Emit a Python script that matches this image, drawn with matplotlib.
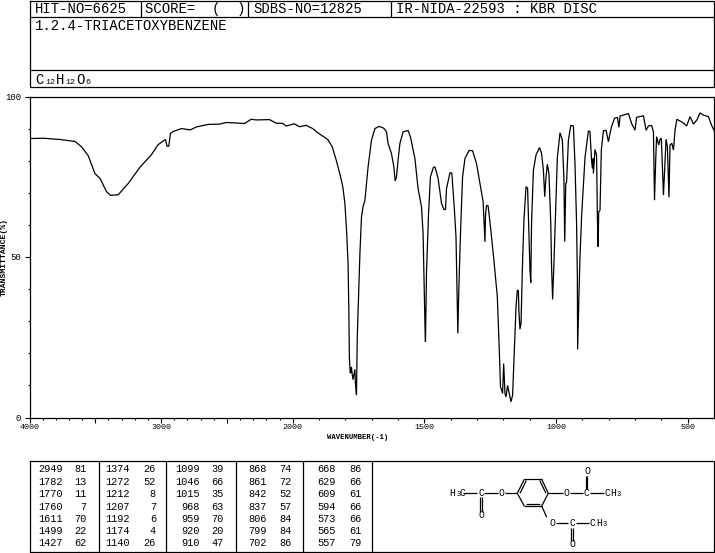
import matplotlib
matplotlib.use("Agg")
import matplotlib.pyplot as plt
import numpy as np

# wavenumber (cm-1) / transmittance (%)
wavenumber = [4000, 3894, 3768, 3654, 3604, 3553, 3503, 3465, 3414, 3384, 3326, 3250, 3162, 3073, 3023, 2967, 2955, 2942,
              2929, 2909, 2846, 2778, 2733, 2644, 2556, 2505, 2366, 2316, 2278, 2177, 2126, 2076, 2050, 1994, 1975, 1949,
              1924, 1905, 1867, 1850, 1835, 1820, 1810, 1802, 1795, 1790, 1787, 1785, 1782, 1780, 1777, 1775, 1771, 1764,
              1762, 1758, 1755, 1749, 1745, 1739, 1733, 1726, 1714, 1701, 1688, 1672, 1654, 1644, 1638, 1625, 1616, 1611,
              1606, 1600, 1593, 1581, 1562, 1553, 1536, 1524, 1511, 1505, 1498, 1496, 1492, 1484, 1477, 1466, 1460, 1448,
              1435, 1426, 1420, 1416, 1403, 1396, 1387, 1380, 1377, 1373, 1369, 1363, 1355, 1346, 1330, 1317, 1302, 1289,
              1277, 1270, 1268, 1264, 1258, 1249, 1236, 1223, 1216, 1211, 1203, 1199, 1194, 1190, 1184, 1178, 1171, 1165,
              1159, 1152, 1147, 1143, 1141, 1137, 1133, 1129, 1127, 1122, 1114, 1108, 1103, 1099, 1096, 1093, 1086, 1076,
              1063, 1055, 1048, 1043, 1039, 1033, 1027, 1020, 1017, 1013, 1008, 1004, 995, 985, 976, 970, 967, 963, 960,
              953, 944, 934, 928, 922, 919, 918, 913, 909, 903, 890, 877, 871, 865, 862, 859, 858, 852, 846, 843, 840, 838,
              833, 828, 820, 810, 801, 795, 789, 778, 767, 761, 757, 725, 713, 700, 694, 668, 658, 649, 637, 630, 626, 621,
              618, 610, 605, 600, 592, 586, 582, 577, 571, 567, 560, 554, 548, 541, 523, 514, 504, 491, 478, 465, 453, 440,
              421, 408, 400]
transmittance = [86.9, 87, 86.6, 86, 84.3, 81.5, 76, 74.5, 70.3, 69.2, 69.4, 72.9, 77.9, 81.9, 85, 86.6, 84.5, 84.5,
                 88.5, 89.1, 90, 89.6, 90.5, 91.3, 91.4, 91.9, 91.6, 92.9, 92.7, 92.8, 91.7, 91.6, 90.8, 91.5, 90.6, 91,
                 90, 88.7, 86.6, 84.3, 80.2, 75.5, 71.9, 66.7, 57.3, 48, 33.4, 18.9, 13.9, 13.9, 15.8, 13.9, 11.8, 15,
                 10.6, 7, 25, 40.7, 51, 62.5, 65.7, 67.7, 78, 86.4, 90, 90.7, 90.1, 89, 85.4, 82.2, 78, 73.7,
                 75, 80.2, 85.4, 89, 89.4, 87.4, 80.7, 71.3, 65.6, 57.3, 29.3, 23.6, 45.4, 64, 75, 77.9, 78.1, 74.5,
                 66.7, 64.8, 64.8, 71.3, 76.2, 76.2, 66, 56.3, 42.8, 26.2, 40.7, 57.3, 75, 80.7, 83.2, 83.1, 79.1, 72.9,
                 67.2, 54.7, 63, 66.1, 65.9, 59.4, 49, 37.6, 22, 9.6, 7.5, 16.8, 7.5, 6.4, 10, 7.5, 4.9, 7,
                 20, 34.5, 39.7, 39.5, 33, 27.5, 29.3, 41.8, 49, 61.5, 71.9, 71.4, 57.4, 46, 42, 60.5, 77, 81.8,
                 84.1, 82.3, 77, 68.8, 74, 78.9, 76, 60.5, 47, 36.8, 48, 58.4, 81, 88.7, 86.4, 74, 54.8, 73, 73.2,
                 86.4, 91, 90.8, 79, 60.5, 44, 21.2, 38, 50, 62.5, 81, 89.3, 89, 80, 77.6, 80.7, 76, 83.5, 81.7, 62.5, 53.2, 64,
                 64.6, 83.3, 89.3, 89.5, 85.9, 88.5, 90.6, 93.2, 93.5, 90.4, 93.9, 94.7, 91.6, 89.5, 93.5, 94, 89.5, 90.8, 91, 89, 67.7, 81.2,
                 87.5, 84.9, 86.6, 87, 69.3, 80, 86.7, 84.3, 68.6, 84.9, 85.4, 83.3, 89.5, 92.9, 92.1, 91.6, 90.8, 93.7, 91.4, 92.7, 94.9, 94.2,
                 93.7, 90.8, 89.5]

# peak table, column by column
peak_wn = ["2949", "1782", "1770", "1760", "1611", "1499", "1427",
           "1374", "1272", "1212", "1207", "1192", "1174", "1140",
           "1099", "1046", "1015", "968", "959", "920", "910",
           "868", "861", "842", "837", "806", "799", "702",
           "668", "629", "609", "594", "573", "565", "557"]
peak_t = ["81", "13", "11", "7", "70", "22", "62",
          "26", "52", "8", "7", "6", "4", "26",
          "39", "66", "35", "63", "70", "20", "47",
          "74", "72", "52", "57", "84", "84", "86",
          "86", "66", "61", "66", "66", "61", "79"]

x_major = [4000, 3500, 3000, 2500, 2000, 1500, 1000, 500]
x_labels = ["4000", "", "3000", "", "2000", "1500", "1000", "500"]
y_major = [0, 50, 100]

header_cells = ["HIT-NO=6625", "SCORE=  (  )", "SDBS-NO=12825", "IR-NIDA-22593 : KBR DISC"]
name_text = "1.2.4-TRIACETOXYBENZENE"

MONO = "Liberation Mono"


# the chart paper doubles its x scale below 2000
def wn_forward(v):
    v = np.asarray(v, dtype=float)
    return np.where(v >= 2000, v, 2 * v - 2000)


def wn_inverse(u):
    u = np.asarray(u, dtype=float)
    return np.where(u >= 2000, u, (u + 2000) / 2)


W, H = 715, 553
fig = plt.figure(figsize=(W / 100, H / 100), dpi=100)

ax = fig.add_axes([29.5 / W, 1 - 417.5 / H, (714 - 29.5) / W, (417.5 - 96.5) / H])
ax.set_xscale("function", functions=(wn_forward, wn_inverse))
ax.set_xlim(4000, 400)
ax.set_ylim(0, 100)
ax.plot(wavenumber, transmittance, color="black", lw=0.9, solid_joinstyle="miter")

for s in ax.spines.values():
    s.set_linewidth(0.9)
ax.set_xticks(x_major)
ax.set_xticklabels(x_labels)
ax.set_xticks([v for v in range(500, 4000, 100) if v not in x_major], minor=True)
ax.set_xticklabels([], minor=True)
ax.set_yticks(y_major)
ax.set_yticks([v for v in range(10, 100, 10) if v not in y_major], minor=True)
ax.tick_params(axis="x", which="major", direction="out", length=3.6, width=0.8, labelsize=6, pad=1)
ax.tick_params(axis="x", which="minor", direction="out", length=1.5, width=0.8)
ax.tick_params(axis="y", which="major", direction="out", length=3.6, width=0.8, labelsize=6.5, pad=2.5)
ax.tick_params(axis="y", which="minor", direction="out", length=1.5, width=0.8)
for t in ax.get_xticklabels() + ax.get_yticklabels():
    t.set_family(MONO)
ax.set_xlabel("WAVENUMBER(-1)", fontsize=5.2, family=MONO, weight="bold")
ax.xaxis.set_label_coords((358 - 29.5) / (714 - 29.5), -16.5 / 321)
ax.set_ylabel("TRANSMITTANCE(%)", fontsize=5.9, family=MONO, weight="bold")
ax.yaxis.set_label_coords(-21.5 / 684.5, (417.5 - 256.5) / 321)

# everything else sits on an overlay in pixel coordinates
ov = fig.add_axes([0, 0, 1, 1], facecolor="none")
ov.set_xlim(0, W)
ov.set_ylim(H, 0)
ov.axis("off")


def seg(x0, y0, x1, y1, lw=0.9):
    ov.plot([x0, x1], [y0, y1], color="black", lw=lw, solid_capstyle="butt")


def box(x0, y0, x1, y1):
    ov.plot([x0, x1, x1, x0, x0], [y0, y0, y1, y1, y0], color="black", lw=0.9)


box(29.5, 0.5, 714, 87)
seg(29.5, 17, 714, 17)
seg(29.5, 69.5, 714, 69.5)
for x in [140.5, 248, 390.5]:
    seg(x, 0.5, x, 17)
for x, s in zip([35, 145, 253, 396], header_cells):
    ov.text(x, 9, s, fontsize=10, family=MONO, ha="left", va="center")
ov.text(35, 26.5, name_text, fontsize=10, family=MONO, ha="left", va="center")

# formula, subscripts placed by hand
for x, y, s, fs in [(35, 80, "C", 10), (45, 83, "12", 6), (56, 80, "H", 10), (65, 83, "12", 6),
                    (76.5, 80, "O", 10), (85.5, 83, "6", 6)]:
    ov.text(x, y, s, fontsize=fs, family=MONO, ha="left", va="center")

# peak table
box(29.5, 460.5, 714, 552)
for x in [98.5, 166, 235.5, 303, 372]:
    seg(x, 460.5, x, 552)
wn_right = [62.7, 130, 199.5, 267, 336]
t_right = [86.7, 156, 224, 292, 361.7]
row_y = [469.5, 482, 494, 506.5, 518.5, 531, 543.3]
for i in range(len(peak_wn)):
    col, row = divmod(i, 7)
    ov.text(wn_right[col], row_y[row], peak_wn[i], fontsize=7.4, family=MONO, ha="right", va="center")
    ov.text(t_right[col], row_y[row], peak_t[i], fontsize=7.4, family=MONO, ha="right", va="center")

# structure drawing
bonds = [(463, 493.3, 477, 493.3), (484, 493.3, 498, 493.3), (505, 493.3, 517.3, 493.3),
         (517.3, 493.3, 524.3, 479.3), (524.3, 479.3, 541.7, 479.3), (541.7, 479.3, 548.3, 493.3),
         (548.3, 493.3, 541.7, 506), (541.7, 506, 524.3, 506), (524.3, 506, 517.3, 493.3),
         (548.3, 493.3, 563, 493.3), (570, 493.3, 583, 493.3), (590, 493.3, 604, 493.3),
         (541.7, 506, 546.7, 517.3), (555.7, 522.7, 568.3, 522.7), (575.7, 522.7, 589.3, 522.7)]
double_bonds = [(480, 497, 480, 511.7), (482, 497, 482, 511.7), (585.5, 476, 585.5, 489.3), (587, 476, 587, 489.3),
                (570.5, 528.3, 570.5, 540.7), (572.5, 528.3, 572.5, 540.7), (526.3, 480.5, 520, 493.3),
                (539.7, 480.5, 546, 493.3), (526, 504, 540, 504)]
for b in bonds + double_bonds:
    seg(*b)
atoms = [(452, 493, "H", 7), (458.5, 494.5, "3", 5), (462, 493, "C", 7), (481, 493, "C", 7), (501.7, 493, "O", 7),
         (566.7, 493, "O", 7), (586.7, 493, "C", 7), (607, 493, "C", 7), (613, 493, "H", 7), (619, 494.5, "3", 5),
         (587, 470.7, "O", 7), (552.7, 522.7, "O", 7), (572, 522.7, "C", 7), (592, 522.7, "C", 7), (599, 522.7, "H", 7),
         (605, 524, "3", 5), (481, 515, "O", 7), (572.7, 544, "O", 7)]
for x, y, s, fs in atoms:
    ov.text(x, y, s, fontsize=fs, family=MONO, ha="center", va="center")

fig.savefig("out.png", dpi=100)
